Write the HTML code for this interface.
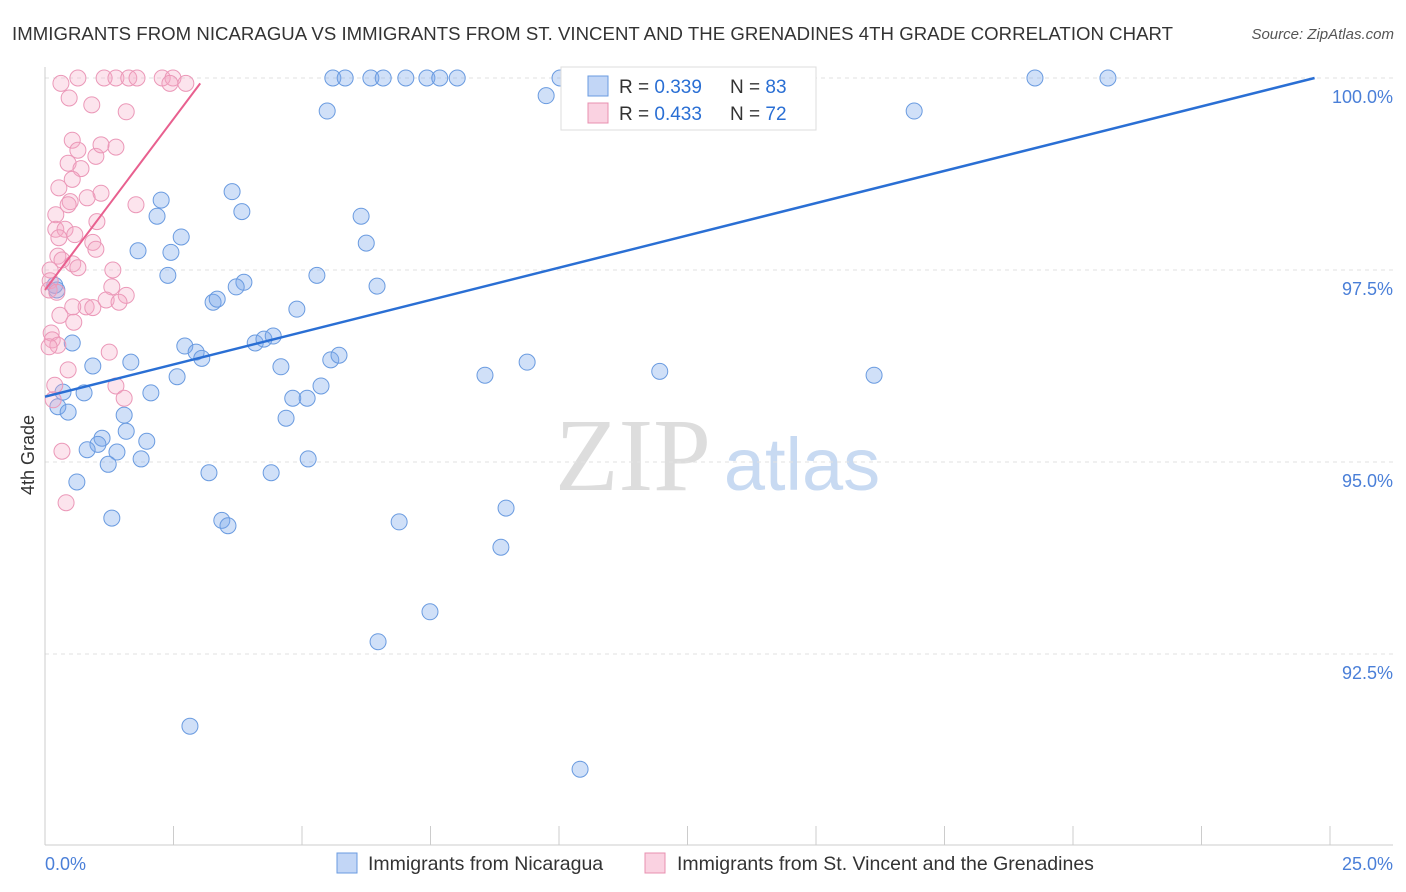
<!DOCTYPE html>
<html><head><meta charset="utf-8"><style>
body{margin:0;background:#fff;font-family:"Liberation Sans",sans-serif;}
svg{display:block}
</style></head><body>
<svg id="chart" width="1406" height="892">
<text x="12" y="40" font-size="18.6" fill="#333" textLength="1161">IMMIGRANTS FROM NICARAGUA VS IMMIGRANTS FROM ST. VINCENT AND THE GRENADINES 4TH GRADE CORRELATION CHART</text>
<text x="1394" y="39" font-size="15" fill="#555" font-style="italic" text-anchor="end">Source: ZipAtlas.com</text>
<text x="633" y="490" font-size="104" fill="#ddd" font-family="Liberation Serif,serif" text-anchor="middle">ZIP</text>
<text x="802" y="490" font-size="74" fill="#c8daf2" text-anchor="middle">atlas</text>
<text transform="translate(34,455) rotate(-90)" font-size="18" fill="#333" text-anchor="middle">4th Grade</text>
<g id="grid"></g><g id="pts"></g><g id="lines"></g>
<g>
<rect x="561" y="67" width="255" height="63" fill="#fff" stroke="#ddd"/>
<rect x="588" y="76" width="20" height="20" fill="rgba(120,165,235,0.45)" stroke="#6a9be0"/>
<text x="619" y="93" font-size="19" fill="#333">R = <tspan fill="#2a6fd4">0.339</tspan></text>
<text x="730" y="93" font-size="19" fill="#333">N = <tspan fill="#2a6fd4">83</tspan></text>
<rect x="588" y="103" width="20" height="20" fill="rgba(245,165,195,0.5)" stroke="#e890b0"/>
<text x="619" y="120" font-size="19" fill="#333">R = <tspan fill="#2a6fd4">0.433</tspan></text>
<text x="730" y="120" font-size="19" fill="#333">N = <tspan fill="#2a6fd4">72</tspan></text>
</g>
<text x="45" y="870" font-size="18" fill="#4a7fd8">0.0%</text>
<text x="1393" y="870" font-size="18" fill="#4a7fd8" text-anchor="end">25.0%</text>
<rect x="337" y="853" width="20" height="20" fill="rgba(120,165,235,0.45)" stroke="#6a9be0"/>
<text x="368" y="870" font-size="19.5" fill="#333">Immigrants from Nicaragua</text>
<rect x="645" y="853" width="20" height="20" fill="rgba(245,165,195,0.5)" stroke="#e890b0"/>
<text x="677" y="870" font-size="19.5" fill="#333">Immigrants from St. Vincent and the Grenadines</text>
</svg>
<script>
const yTicks=[100,97.5,95,92.5];
const yTickLabels=["100.0%","97.5%","95.0%","92.5%"];
const xTicks=[0,2.5,5,7.5,10,12.5,15,17.5,20,22.5,25];
const blueX=[5.60,5.84,6.34,6.58,7.02,7.43,7.68,8.02,10.02,10.76,19.26,20.68,5.49,9.75,16.91,2.26,2.18,3.64,3.83,6.15,2.65,1.81,2.45,6.25,2.39,5.29,3.87,3.72,6.46,3.27,3.35,4.90,0.23,0.19,2.72,2.94,3.05,4.09,4.26,4.44,0.53,0.93,1.67,2.57,4.59,5.56,5.72,8.56,9.38,11.96,16.13,0.76,0.35,2.06,5.37,4.82,5.10,0.25,0.45,1.54,4.69,1.58,1.11,1.03,0.82,1.40,1.98,1.87,1.23,3.19,4.40,5.12,0.62,8.97,1.30,3.44,3.56,6.89,8.87,7.49,6.48,2.82,10.41];
const blueY=[100,100,100,100,100,100,100,100,100,99.95,100,100,99.57,99.77,99.57,98.41,98.20,98.52,98.26,98.20,97.93,97.75,97.73,97.85,97.43,97.43,97.34,97.28,97.29,97.08,97.12,96.99,97.24,97.30,96.51,96.43,96.35,96.55,96.60,96.64,96.55,96.25,96.30,96.11,96.24,96.33,96.39,96.13,96.30,96.18,96.13,95.90,95.91,95.90,95.99,95.83,95.83,95.72,95.65,95.61,95.57,95.40,95.31,95.23,95.16,95.13,95.27,95.04,94.97,94.86,94.86,95.04,94.74,94.40,94.27,94.24,94.17,94.22,93.89,93.05,92.66,91.56,91.00];
const pinkX=[0.31,0.64,1.15,1.38,1.63,1.79,2.28,2.49,2.74,2.43,0.47,0.91,1.58,0.53,0.64,0.99,1.38,1.09,0.45,0.70,0.53,0.27,1.09,0.82,0.49,0.45,1.77,0.21,1.01,0.21,0.39,0.27,0.58,0.93,0.99,0.25,0.33,0.54,0.64,1.32,0.10,0.10,0.08,0.23,1.30,1.58,1.19,1.44,0.80,0.54,0.93,0.29,0.56,0.12,0.14,0.25,0.08,1.25,0.19,0.45,1.38,1.54,0.33,0.41,0.16];
const pinkY=[99.93,100,100,100,100,100,100,100,99.93,99.93,99.74,99.65,99.56,99.19,99.06,98.98,99.10,99.13,98.89,98.82,98.68,98.57,98.50,98.44,98.39,98.35,98.35,98.22,98.13,98.03,98.03,97.92,97.96,97.86,97.77,97.68,97.63,97.58,97.53,97.50,97.50,97.36,97.24,97.21,97.28,97.17,97.11,97.08,97.02,97.02,97.01,96.91,96.82,96.68,96.59,96.52,96.50,96.43,96.00,96.20,95.99,95.83,95.14,94.47,95.81];
const blueTrend=[[0,95.85],[24.7,100]];
const pinkTrend=[[0,97.24],[3.02,99.93]];
const NS="http://www.w3.org/2000/svg";
const X0=45,X1=1330,Y100=78,Y90=846;
const sx=v=>X0+(v/25)*(X1-X0);
const sy=v=>Y100+(100-v)/10*(Y90-Y100);
function mk(tag,at,parent){const e=document.createElementNS(NS,tag);for(const k in at)e.setAttribute(k,at[k]);parent.appendChild(e);return e;}
const grid=document.getElementById('grid');
yTicks.forEach((t,i)=>{
  const l=mk('line',{x1:45,x2:1393,y1:sy(t),y2:sy(t),stroke:'#e2e2e2','stroke-dasharray':'4,4'},grid);
  
  
  const tx=mk('text',{x:1393,y:sy(t)+25,'font-size':18,fill:'#4a7fd8','text-anchor':'end'},grid);
  tx.textContent=yTickLabels[i];
  
  
});
const ax=mk('line',{x1:45,x2:1393,y1:845,y2:845,stroke:'#ccc'},grid);


const ay=mk('line',{x1:45,x2:45,y1:67,y2:845,stroke:'#ccc'},grid);


xTicks.forEach(t=>{
  const l=mk('line',{x1:sx(t),x2:sx(t),y1:826,y2:845,stroke:'#ccc'},grid);
  
  
});
const pts=document.getElementById('pts');
blueX.forEach((v,i)=>{
  const c=mk('circle',{cx:sx(v),cy:sy(blueY[i]),r:8,fill:'rgba(120,165,235,0.35)',stroke:'#6a9be0','stroke-width':1},pts);
  
  
});
pinkX.forEach((v,i)=>{
  const c=mk('circle',{cx:sx(v),cy:sy(pinkY[i]),r:8,fill:'rgba(245,165,195,0.3)',stroke:'#eb98b8','stroke-width':1},pts);
  
  
});
const lines=document.getElementById('lines');
const bl=mk('line',{x1:sx(blueTrend[0][0]),y1:sy(blueTrend[0][1]),x2:sx(blueTrend[1][0]),y2:sy(blueTrend[1][1]),stroke:'#2a6fd4','stroke-width':2.5},lines);


const pl=mk('line',{x1:sx(pinkTrend[0][0]),y1:sy(pinkTrend[0][1]),x2:sx(pinkTrend[1][0]),y2:sy(pinkTrend[1][1]),stroke:'#e8608f','stroke-width':2},lines);


</script>
</body></html>
